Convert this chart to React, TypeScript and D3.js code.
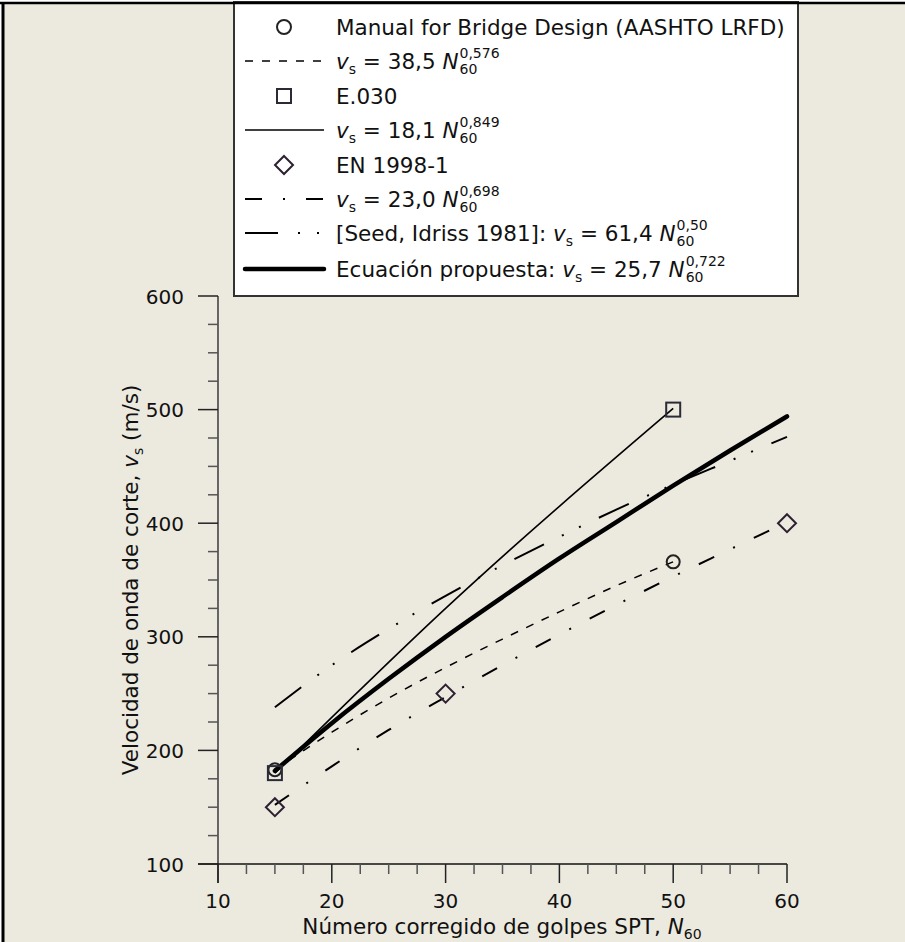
import React, { useEffect, useRef } from 'react';
import * as d3 from 'd3';

// ---------- data ----------
const X_TICKS = [10, 20, 30, 40, 50, 60];
const Y_TICKS = [100, 200, 300, 400, 500, 600];

// markers
const aashtoPtsN = [15, 50];
const aashtoPtsV = [183, 366];
const e030PtsN = [15, 50];
const e030PtsV = [180, 500];
const enPtsN = [15, 30, 60];
const enPtsV = [150, 250, 400];

// curves
const aashtoN = [15, 20, 25, 30, 35, 40, 45, 50];
const aashtoV = [183, 216, 246, 273, 298, 322, 345, 366];
const e030N = [15, 30, 50];
const e030V = [180, 325, 501];
const enN = [15, 20, 25, 30, 35, 40, 45, 50, 55, 60];
const enV = [152, 186, 218, 247, 275, 302, 328, 353, 377, 401];
const seedN = [15, 20, 25, 30, 35, 40, 45, 50, 55, 60];
const seedV = [238, 275, 307, 336, 363, 388, 412, 434, 455, 476];
const propN = [15, 20, 25, 30, 35, 40, 45, 50, 55, 60];
const propV = [182, 224, 263, 300, 335, 369, 401, 433, 464, 494];

// legend texts
const LEG_AASHTO = 'Manual for Bridge Design (AASHTO LRFD)';
const LEG_E030 = 'E.030';
const LEG_EN = 'EN 1998-1';
const EQ_COEF = ['38,5', '18,1', '23,0', '61,4', '25,7'];
const EQ_EXP = ['0,576', '0,849', '0,698', '0,50', '0,722'];
const EQ_PREFIX = ['', '', '', '[Seed, Idriss 1981]: ', 'Ecuación propuesta: '];

const X_TITLE = 'Número corregido de golpes SPT, ';
const Y_TITLE = 'Velocidad de onda de corte, ';

const FONT = "'DejaVu Sans', Verdana, sans-serif";
const FS = 21.5;   // titles & legend
const FT = 20;     // tick labels
const FSUB = 14;   // sub/superscripts

const zip = (a: number[], b: number[]) => a.map((v, i) => [v, b[i]] as [number, number]);

export default function App() {
  const ref = useRef<SVGSVGElement | null>(null);

  useEffect(() => {
    const W = 905, H = 942;
    const svg = d3.select(ref.current);
    svg.selectAll('*').remove();
    svg.attr('font-family', FONT);

    svg.append('rect').attr('width', W).attr('height', H).attr('fill', '#fff');
    svg.append('rect').attr('x', 3).attr('y', 3).attr('width', W).attr('height', H).attr('fill', '#ECE9DF');
    svg.append('line').attr('x1', 3).attr('x2', 3).attr('y1', 2).attr('y2', H).attr('stroke', '#000').attr('stroke-width', 3);

    const x = d3.scaleLinear().domain([10, 60]).range([218, 787]);
    const y = d3.scaleLinear().domain([100, 600]).range([864, 296]);

    // axes
    const ax = svg.append('g');
    ax.append('line').attr('x1', x(10)).attr('x2', x(10)).attr('y1', y(600)).attr('y2', 883).attr('stroke', '#444').attr('stroke-width', 1.6);
    ax.append('line').attr('x1', 198).attr('x2', x(60)).attr('y1', y(100)).attr('y2', y(100)).attr('stroke', '#111').attr('stroke-width', 1.6);

    const yMinor = d3.range(100, 600.1, 25).filter(v => v % 100 !== 0);
    yMinor.forEach(v => {
      ax.append('line').attr('x1', 208).attr('x2', x(10)).attr('y1', y(v)).attr('y2', y(v)).attr('stroke', '#555').attr('stroke-width', 1.5);
    });
    Y_TICKS.forEach(v => {
      ax.append('line').attr('x1', 198).attr('x2', x(10)).attr('y1', y(v)).attr('y2', y(v)).attr('stroke', '#222').attr('stroke-width', 1.5);
      ax.append('text').attr('x', 184).attr('y', y(v) + 7.5).attr('text-anchor', 'end').attr('font-size', FT).attr('fill', '#111').text(String(v));
    });
    const xMinor = d3.range(10, 60.1, 2.5).filter(v => v % 10 !== 0);
    xMinor.forEach(v => {
      ax.append('line').attr('x1', x(v)).attr('x2', x(v)).attr('y1', y(100)).attr('y2', 874).attr('stroke', '#555').attr('stroke-width', 1.5);
    });
    X_TICKS.forEach(v => {
      ax.append('line').attr('x1', x(v)).attr('x2', x(v)).attr('y1', y(100)).attr('y2', 883).attr('stroke', '#222').attr('stroke-width', 1.5);
      ax.append('text').attr('x', x(v)).attr('y', 908).attr('text-anchor', 'middle').attr('font-size', FT).attr('fill', '#111').text(String(v));
    });

    // axis titles
    const xt = ax.append('text').attr('x', 502).attr('y', 934).attr('text-anchor', 'middle').attr('font-size', FS).attr('fill', '#111');
    xt.append('tspan').text(X_TITLE);
    xt.append('tspan').attr('font-style', 'italic').text('N');
    xt.append('tspan').attr('font-size', FSUB).attr('dy', 5).text('60');

    const yt = ax.append('text').attr('transform', 'translate(138,580) rotate(-90)').attr('text-anchor', 'middle').attr('font-size', FS).attr('fill', '#111');
    yt.append('tspan').text(Y_TITLE);
    yt.append('tspan').attr('font-style', 'italic').text('v');
    yt.append('tspan').attr('font-size', FSUB).attr('dy', 5).text('s');
    yt.append('tspan').attr('dy', -5).text(' (m/s)');

    // curves
    const line = d3.line<[number, number]>().x(d => x(d[0])).y(d => y(d[1])).curve(d3.curveMonotoneX);
    const styles = {
      aashto: { w: 1.5, dash: '8,9' as string | null },
      e030: { w: 1.6, dash: null as string | null },
      en: { w: 2, dash: '17,21,2,21' as string | null },
      seed: { w: 2, dash: '33,20,2,17,2,20' as string | null },
      prop: { w: 4.5, dash: null as string | null },
    };
    const curves: [number[], number[], { w: number; dash: string | null }][] = [
      [aashtoN, aashtoV, styles.aashto],
      [e030N, e030V, styles.e030],
      [enN, enV, styles.en],
      [seedN, seedV, styles.seed],
      [propN, propV, styles.prop],
    ];
    const cg = svg.append('g');
    curves.forEach(([n, v, s]) => {
      const p = cg.append('path').attr('d', line(zip(n, v))).attr('fill', 'none').attr('stroke', '#000')
        .attr('stroke-width', s.w).attr('stroke-linecap', s.w > 3 ? 'round' : 'butt');
      if (s.dash) p.attr('stroke-dasharray', s.dash);
    });

    // markers
    const mg = svg.append('g');
    const circle = (g: any, cx: number, cy: number, r = 6.5) => g.append('circle').attr('cx', cx).attr('cy', cy).attr('r', r).attr('stroke', '#222').attr('fill', 'none').attr('stroke-width', 2);
    const square = (g: any, cx: number, cy: number) => g.append('rect').attr('x', cx - 7).attr('y', cy - 7).attr('width', 14).attr('height', 14).attr('stroke', '#2b2b38').attr('fill', 'none').attr('stroke-width', 2);
    const diamond = (g: any, cx: number, cy: number) => g.append('path').attr('d', `M${cx},${cy - 9}L${cx + 9},${cy}L${cx},${cy + 9}L${cx - 9},${cy}Z`).attr('stroke', '#2d2030').attr('fill', 'none').attr('stroke-width', 2);
    zip(aashtoPtsN, aashtoPtsV).forEach(d => circle(mg, x(d[0]), y(d[1])));
    zip(e030PtsN, e030PtsV).forEach(d => square(mg, x(d[0]), y(d[1])));
    zip(enPtsN, enPtsV).forEach(d => diamond(mg, x(d[0]), y(d[1])));

    // legend
    const lg = svg.append('g');
    lg.append('rect').attr('x', 234).attr('y', 2).attr('width', 564).attr('height', 294).attr('fill', '#fff').attr('stroke', '#333').attr('stroke-width', 2);
    svg.append('line').attr('x1', 0).attr('x2', W).attr('y1', 3).attr('y2', 3).attr('stroke', '#000').attr('stroke-width', 2.5);
    const rowsY = [27, 61, 96, 130, 165, 199, 233, 269];
    const TX = 336, L0 = 245, L1 = 324, MX = 284;
    const plainText = (ty: number, s: string) =>
      lg.append('text').attr('x', TX).attr('y', ty + 8).attr('font-size', FS).attr('fill', '#111').text(s);
    const eqText = (ty: number, i: number) => {
      const base = ty + 8;
      const t = lg.append('text').attr('x', TX).attr('y', base).attr('font-size', FS).attr('fill', '#111');
      if (EQ_PREFIX[i]) t.append('tspan').text(EQ_PREFIX[i]);
      t.append('tspan').attr('font-style', 'italic').text('v');
      t.append('tspan').attr('font-size', FSUB).attr('dy', 5).text('s');
      t.append('tspan').attr('dy', -5).text(' = ' + EQ_COEF[i] + ' ');
      t.append('tspan').attr('font-style', 'italic').text('N');
      const node = t.node() as SVGTextElement;
      const len = node.getComputedTextLength();
      const ex = TX + len + 1;
      lg.append('text').attr('x', ex).attr('y', base + 5).attr('font-size', FSUB).attr('fill', '#111').text('60');
      lg.append('text').attr('x', ex).attr('y', base - 11).attr('font-size', FSUB).attr('fill', '#111').text(EQ_EXP[i]);
    };
    const sample = (ty: number, s: { w: number; dash: string | null }) => {
      const l = lg.append('line').attr('x1', L0).attr('x2', L1).attr('y1', ty).attr('y2', ty).attr('stroke', '#000')
        .attr('stroke-width', s.w).attr('stroke-linecap', s.w > 3 ? 'round' : 'butt');
      if (s.dash) l.attr('stroke-dasharray', s.dash);
    };

    circle(lg, MX, rowsY[0], 7);
    plainText(rowsY[0], LEG_AASHTO);
    sample(rowsY[1], styles.aashto);
    eqText(rowsY[1], 0);
    square(lg, MX, rowsY[2]);
    plainText(rowsY[2], LEG_E030);
    sample(rowsY[3], styles.e030);
    eqText(rowsY[3], 1);
    diamond(lg, MX, rowsY[4]);
    plainText(rowsY[4], LEG_EN);
    sample(rowsY[5], styles.en);
    eqText(rowsY[5], 2);
    sample(rowsY[6], styles.seed);
    eqText(rowsY[6], 3);
    sample(rowsY[7], styles.prop);
    eqText(rowsY[7], 4);
  }, []);

  return (
    <svg ref={ref} width={905} height={942} style={{ position: 'absolute', left: 0, top: 0, display: 'block' }} />
  );
}
